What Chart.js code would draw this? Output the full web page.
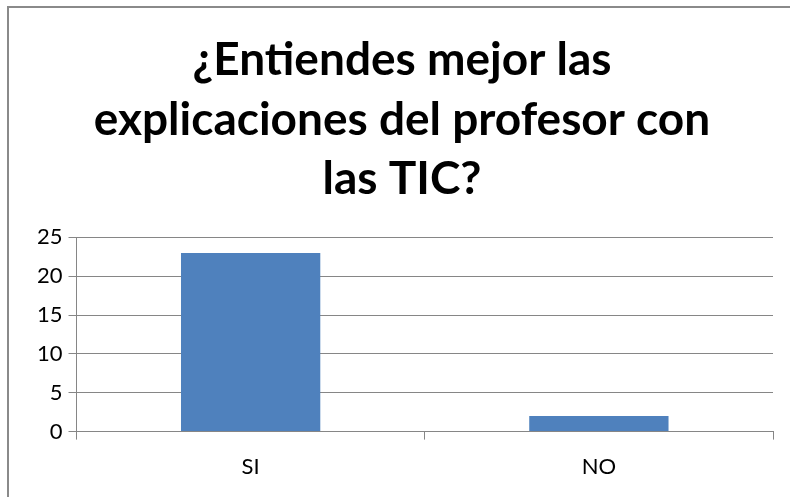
<!DOCTYPE html>
<html>
<head>
<meta charset="utf-8">
<script src="https://cdn.jsdelivr.net/npm/chart.js@4.4.0/dist/chart.umd.min.js"></script>
<style>
  html, body { margin: 0; padding: 0; background: #fff; }
  #wrap { position: relative; width: 790px; height: 497px; }
  #frame { position: absolute; left: 7px; top: 6px; right: -5px; bottom: -5px;
           border-left: 2px solid #8a8a8a; border-top: 2px solid #8a8a8a; }
  canvas { position: absolute; left: 0; top: 0; }
</style>
</head>
<body>
<div id="wrap">
  <div id="frame"></div>
  <canvas id="chart" width="790" height="497"></canvas>
</div>
<script>
const titleLines = ['¿Entiendes mejor las', 'explicaciones del profesor con', 'las TIC?']
const categories = ['SI', 'NO']
const answers = [23, 2]
const yTicks = { min: 0, max: 25, step: 5 }

const gridGrey = '#868686'
const font = 'Lato, Calibri, "Open Sans", sans-serif'

const ctx = document.getElementById('chart')

new Chart(ctx, {
  type: 'bar',
  data: {
    labels: categories,
    datasets: [{
      data: answers,
      backgroundColor: '#4F81BD',
      borderWidth: 0,
      barPercentage: 0.4,
      categoryPercentage: 1
    }]
  },
  options: {
    responsive: false,
    animation: false,
    layout: {
      padding: { left: 31, right: 17, top: 0, bottom: 3 }
    },
    plugins: {
      legend: { display: false },
      tooltip: { enabled: false },
      title: {
        display: true,
        text: titleLines,
        color: '#000',
        font: { family: font, size: 46, weight: 'bold', lineHeight: 1.3 },
        padding: { top: 30, bottom: 28 }
      }
    },
    scales: {
      x: {
        grid: {
          offset: true,
          drawOnChartArea: false,
          color: gridGrey,
          tickLength: 8
        },
        border: { color: gridGrey, width: 1 },
        ticks: {
          color: '#000',
          font: { family: font, size: 22 },
          padding: 14
        }
      },
      y: {
        min: yTicks.min,
        max: yTicks.max,
        grid: { color: gridGrey, tickLength: 8 },
        border: { color: gridGrey, width: 1 },
        ticks: {
          stepSize: yTicks.step,
          color: '#000',
          font: { family: font, size: 22 },
          padding: 6
        }
      }
    }
  }
})
</script>
</body>
</html>
